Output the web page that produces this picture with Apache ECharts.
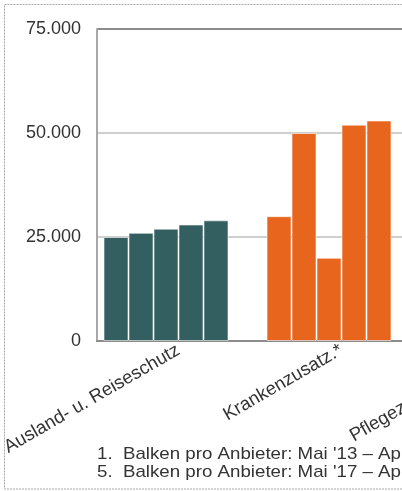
<!DOCTYPE html>
<html>
<head>
<meta charset="utf-8">
<style>
  html, body { margin: 0; padding: 0; background: #fff; }
  #chart { width: 402px; height: 491px; }
</style>
<script src="https://cdn.jsdelivr.net/npm/echarts@6/dist/echarts.min.js"></script>
</head>
<body>
<div id="chart"></div>
<script>
// Product lines on the x axis
const categories = ['Ausland- u. Reiseschutz', 'Krankenzusatz.*', 'Pflegezusatzversich.*'];
const categoryColors = ['#345f60', '#e8651e', '#e8651e'];

// One bar per provider period (1st ... 6th bar of each group)
const periods = ["Mai '13 – Apr '14", "Mai '14 – Apr '15", "Mai '15 – Apr '16",
                 "Mai '16 – Apr '17", "Mai '17 – Apr '18", "Mai '18 – Apr '19"];
const period1 = [25000, 30000, null];
const period2 = [26000, 50000, null];
const period3 = [27000, 20000, null];
const period4 = [28000, 52000, null];
const period5 = [29000, 53000, null];
const period6 = [null, null, null];
const periodValues = [period1, period2, period3, period4, period5, period6];

// Value axis ticks
const yTicks = [0, 25000, 50000, 75000];

// Footnote lines
const footnotes = ["1.  Balken pro Anbieter: Mai '13 – Apr '14",
                   "5.  Balken pro Anbieter: Mai '17 – Apr '18"];

const FONT = '"Liberation Sans", Arial, sans-serif';

const chart = echarts.init(document.getElementById('chart'));

const series = periodValues.map((vals, i) => ({
  name: periods[i],
  type: 'bar',
  barGap: '0%',
  barCategoryGap: '8%',
  data: vals.map((v, c) => ({
    value: v,
    itemStyle: { color: categoryColors[c] }
  })),
  itemStyle: { borderColor: 'rgba(255,255,255,0.55)', borderWidth: 1 },
  emphasis: { disabled: true }
}));

chart.setOption({
  animation: false,
  // the plot runs on past the right edge of the page
  grid: {
    left: 97, top: 29, width: 489, height: 312,
    containLabel: false, outerBoundsMode: 'none'
  },
  xAxis: {
    type: 'category',
    data: categories,
    axisLine: { show: true, lineStyle: { color: '#8c8c8c', width: 2 } },
    axisTick: { show: false },
    axisLabel: {
      rotate: 30,
      margin: 8,
      interval: 0,
      color: '#333',
      fontFamily: FONT,
      fontSize: 18.5
    }
  },
  yAxis: {
    type: 'value',
    min: yTicks[0],
    max: yTicks[yTicks.length - 1],
    interval: yTicks[1] - yTicks[0],
    axisLine: { show: true, lineStyle: { color: '#a8a8a8', width: 2 } },
    axisTick: { show: false },
    splitLine: {
      show: true,
      lineStyle: { color: ['#8c8c8c', '#cfcfcf', '#cfcfcf', '#8c8c8c'], width: 2 }
    },
    axisLabel: {
      margin: 16,
      color: '#333',
      fontFamily: FONT,
      fontSize: 18,
      formatter: v => v.toString().replace(/\B(?=(\d{3})+(?!\d))/g, '.')
    }
  },
  series: series,
  graphic: [
    {
      type: 'rect',
      shape: { x: 4.5, y: 4.5, width: 420, height: 484.5 },
      style: { fill: 'none', stroke: '#a8a8a8', lineWidth: 1, lineDash: [2, 1] },
      silent: true,
      z: -10
    },
    ...footnotes.map((t, i) => ({
      type: 'text',
      x: 97,
      y: 446 + i * 18,
      scaleX: 1.1,
      style: { text: t, fill: '#333', font: '17px ' + FONT }
    }))
  ]
});
</script>
</body>
</html>
